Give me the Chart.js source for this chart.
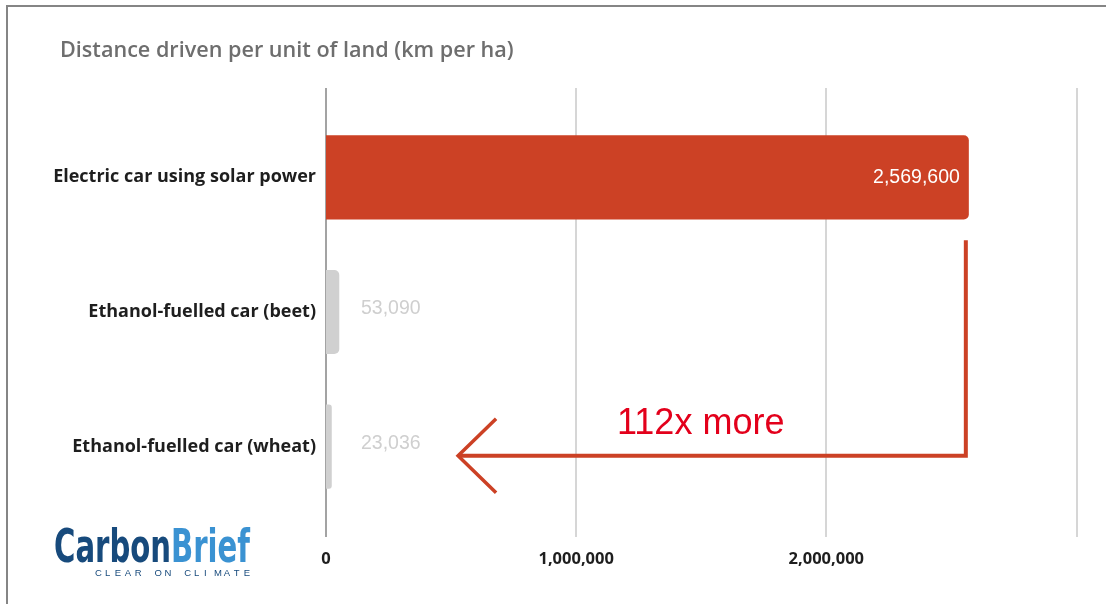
<!DOCTYPE html>
<html>
<head>
<meta charset="utf-8">
<script src="https://cdn.jsdelivr.net/npm/chart.js@4.4.1/dist/chart.umd.min.js"></script>
<style>
  html, body { margin: 0; padding: 0; background: #fff; }
  #wrap { position: relative; width: 1106px; height: 604px; }
</style>
</head>
<body>
<div id="wrap"><canvas id="myChart" width="1106" height="604"></canvas></div>
<script>
const categories = ['Electric car using solar power', 'Ethanol-fuelled car (beet)', 'Ethanol-fuelled car (wheat)'];
const distances = [2569600, 53090, 23036];
const barColors = ['#cc4125', '#d0d0d0', '#d0d0d0'];
const xTicks = [0, 1000000, 2000000, 3000000];
const xTickLabels = ['0', '1,000,000', '2,000,000', ''];
const chartTitle = 'Distance driven per unit of land (km per ha)';
const ratioLabel = '112x more';

const labelFont = '"Open Sans", "Liberation Sans", Arial, sans-serif';

// frame, title, value labels, grid lines, arrow and logo
const extras = {
  id: 'extras',
  beforeDatasetsDraw(chart) {
    const c = chart.ctx, x = chart.scales.x, area = chart.chartArea;
    c.save();
    // vertical grid lines run past the plot area
    xTicks.forEach(v => {
      const px = Math.round(x.getPixelForValue(v));
      c.strokeStyle = v === 0 ? '#858585' : '#d6d6d6';
      c.lineWidth = v === 0 ? 1.5 : 2;
      c.beginPath();
      c.moveTo(px, area.top - 22);
      c.lineTo(px, area.bottom + 23);
      c.stroke();
    });
    c.restore();
  },
  afterDraw(chart) {
    const c = chart.ctx, x = chart.scales.x, y = chart.scales.y;
    c.save();
    // outer frame
    c.strokeStyle = '#858585';
    c.lineWidth = 2;
    c.beginPath();
    c.moveTo(7, 604);
    c.lineTo(7, 6);
    c.lineTo(1106, 6);
    c.stroke();

    // title
    c.fillStyle = '#6e6e6e';
    c.font = '600 21.6px ' + labelFont;
    c.textAlign = 'left';
    c.textBaseline = 'middle';
    c.fillText(chartTitle, 60, 51);

    // value labels
    c.font = '19.5px "Liberation Sans", Arial, sans-serif';
    distances.forEach((v, i) => {
      const py = y.getPixelForValue(i);
      const txt = v.toLocaleString('en-US');
      if (i === 0) {
        c.fillStyle = '#ffffff';
        c.textAlign = 'right';
        c.fillText(txt, x.getPixelForValue(v) - 9, py);
      } else {
        c.fillStyle = '#cfcfcf';
        c.textAlign = 'left';
        c.fillText(txt, x.getPixelForValue(0) + 35, py - 3);
      }
    });

    // arrow from the solar bar back to the ethanol bars
    const ax = x.getPixelForValue(distances[0]) - 3;
    const ay = y.getPixelForValue(2) + 9;
    const tip = x.getPixelForValue(528000);
    c.strokeStyle = '#cc4125';
    c.lineWidth = 4;
    c.lineJoin = 'miter';
    c.beginPath();
    c.moveTo(ax, y.getPixelForValue(0) + 63);
    c.lineTo(ax, ay);
    c.lineTo(tip, ay);
    c.stroke();
    c.lineWidth = 3.5;
    c.beginPath();
    c.moveTo(tip + 38, ay - 37);
    c.lineTo(tip, ay);
    c.lineTo(tip + 38, ay + 37);
    c.stroke();

    c.fillStyle = '#e3001b';
    c.font = '36px "Liberation Sans", Arial, sans-serif';
    c.textAlign = 'left';
    c.textBaseline = 'alphabetic';
    c.fillText(ratioLabel, 617, 434);

    // logo
    c.font = 'bold 46px "Liberation Sans Narrow", "DejaVu Sans Condensed", Arial, sans-serif';
    const w1 = c.measureText('Carbon').width, w2 = c.measureText('Brief').width;
    const sx = 196 / (w1 + w2);
    c.save();
    c.translate(54, 562);
    c.scale(sx, 1.0);
    c.fillStyle = '#174a7c';
    c.fillText('Carbon', 0, 0);
    c.fillStyle = '#3a92d2';
    c.fillText('Brief', w1, 0);
    c.restore();
    c.fillStyle = '#174a7c';
    c.font = '9.5px "Liberation Sans", Arial, sans-serif';
    const tag = 'CLEAR ON CLIMATE';
    let tx = 95;
    const step = (250 - 95 - c.measureText('E').width) / (tag.length - 1);
    for (const ch of tag) {
      c.fillText(ch, tx, 576);
      tx += step;
    }
    c.restore();
  }
};

new Chart(document.getElementById('myChart'), {
  type: 'bar',
  data: {
    labels: categories,
    datasets: [{
      data: distances,
      backgroundColor: barColors,
      borderWidth: 0,
      borderSkipped: 'start',
      borderRadius: 5,
      barPercentage: 0.625,
      categoryPercentage: 1
    }]
  },
  options: {
    indexAxis: 'y',
    responsive: false,
    animation: false,
    layout: { padding: { left: 20, right: 29.5, top: 110, bottom: 0 } },
    plugins: {
      legend: { display: false },
      tooltip: { enabled: false },
      title: { display: false }
    },
    scales: {
      x: {
        min: 0,
        max: 3000000,
        afterBuildTicks: s => { s.ticks = xTicks.map(v => ({ value: v })); },
        grid: { display: false },
        border: { display: false },
        ticks: {
          padding: 27,
          color: '#1e1e1e',
          font: { family: labelFont, size: 16.5, weight: 'bold' },
          callback: (v, i) => xTickLabels[i]
        },
        afterFit: s => { s.height = 90; }
      },
      y: {
        grid: { display: false },
        border: { display: false },
        ticks: {
          padding: 2,
          color: '#1e1e1e',
          font: { family: labelFont, size: 18, weight: 'bold' }
        },
        afterFit: s => { s.width = 306; }
      }
    }
  },
  plugins: [extras]
});
</script>
</body>
</html>
